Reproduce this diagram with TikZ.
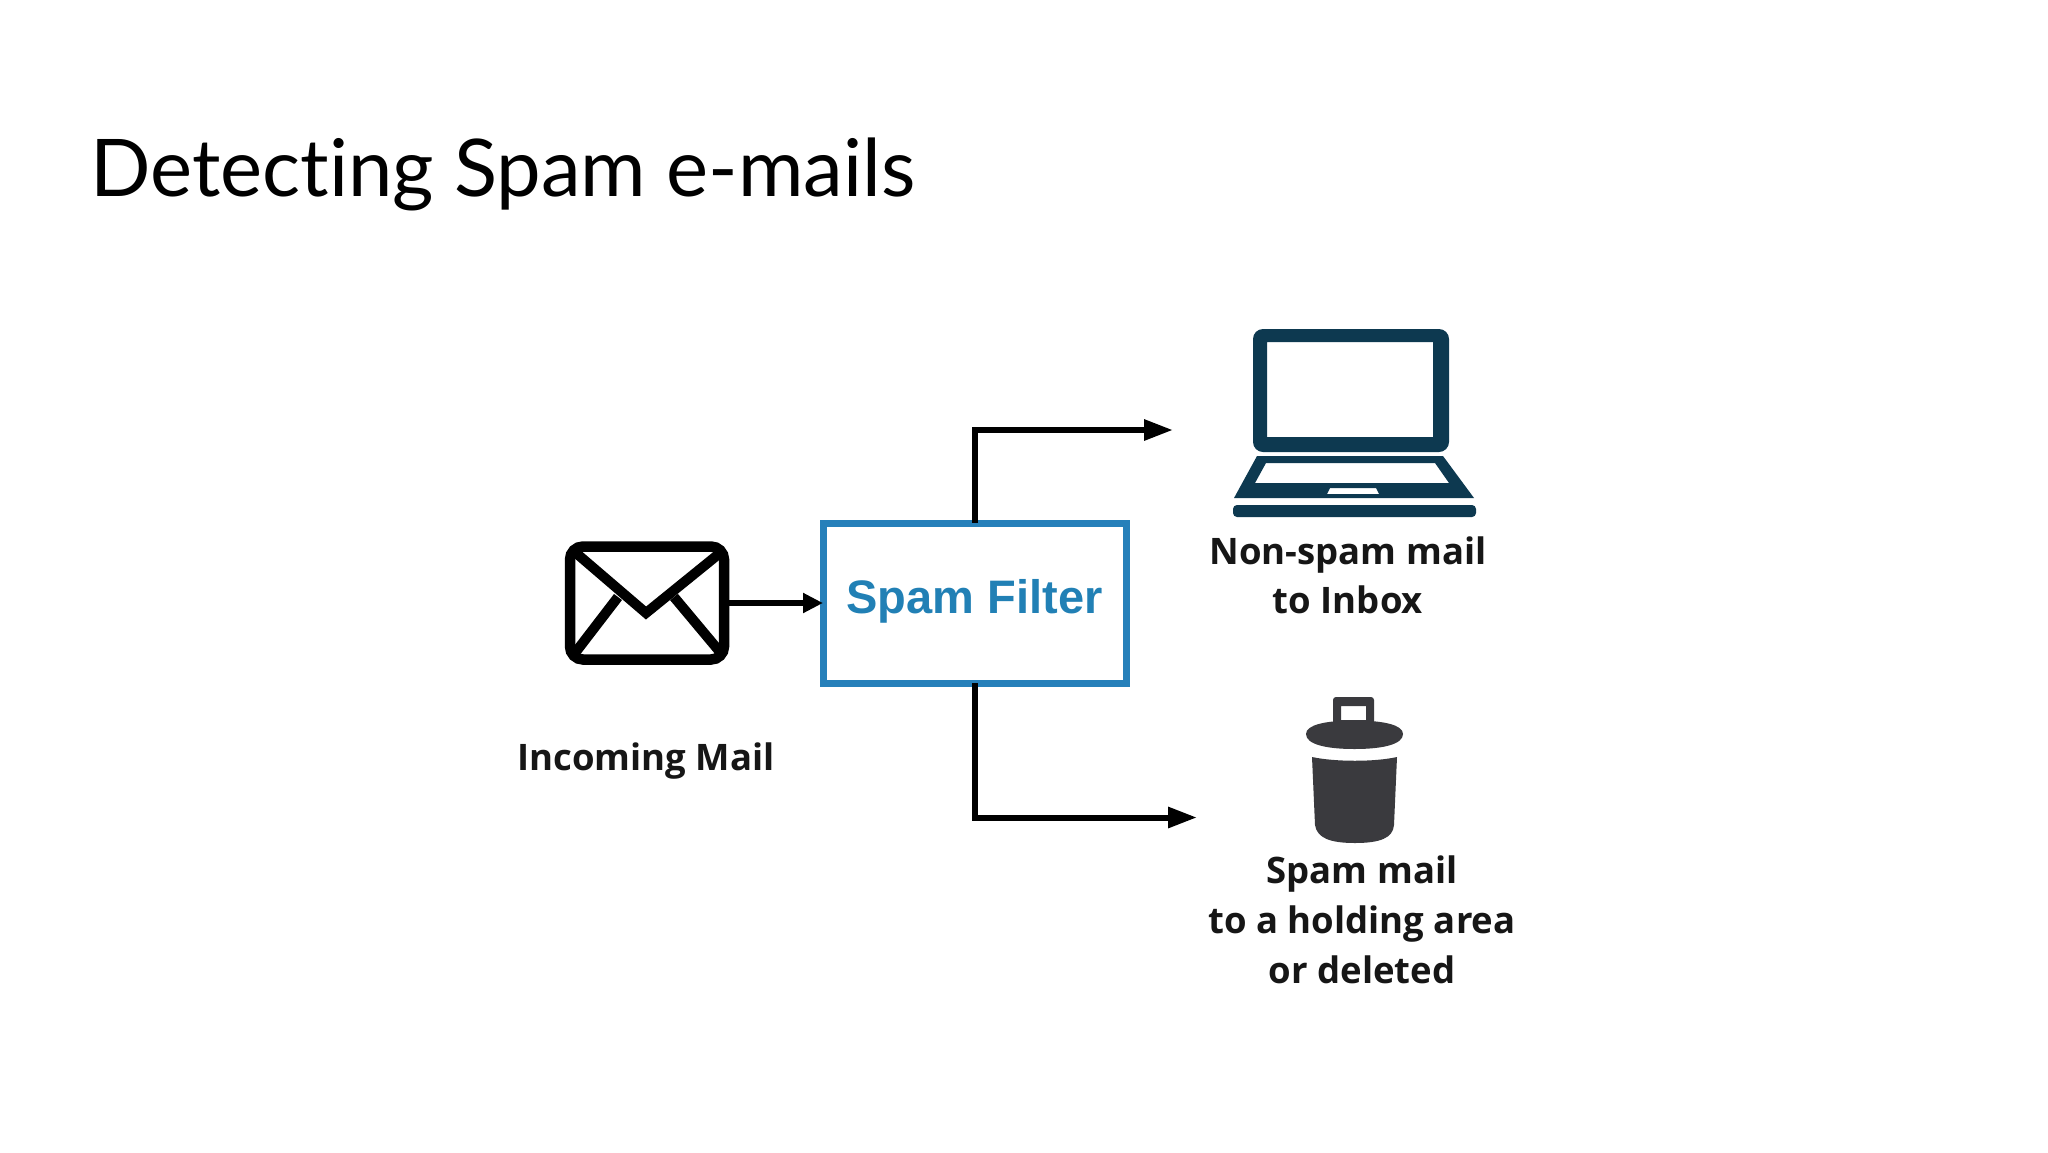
\documentclass[tikz,border=0pt]{standalone}
\usepackage{fontspec}
\setmainfont{Open Sans}
\newfontfamily\titlefont[Ligatures=NoCommon]{Lato}
\newfontfamily\boxfont{Liberation Sans}
\usetikzlibrary{arrows.meta}
\definecolor{boxblue}{HTML}{2680BA}
\definecolor{boxtext}{HTML}{2180B5}
\definecolor{lapcol}{HTML}{0D3950}
\definecolor{bincol}{HTML}{3A3A3E}
\definecolor{labelcol}{HTML}{161616}
\tikzset{
  x=1pt,y=-1pt,
  flow/.style={line width=6pt,black,-{Triangle[length=29pt,width=20pt]}},
  flowsmall/.style={line width=5.5pt,black,-{Triangle[length=20pt,width=19pt]}},
  lab/.style={font=\fontsize{36.5}{46}\selectfont\bfseries,text=labelcol,inner sep=0pt,align=center,anchor=base},
}
\begin{document}
\begin{tikzpicture}
\useasboundingbox[fill=white] (0,0) rectangle (2048,1152);
\node[font=\titlefont\fontsize{79.6}{90}\selectfont,anchor=base west,inner sep=0pt] (title) at (90,196) {Detecting Spam e-mails};

% envelope
\node[draw=black,line width=10.5pt,rounded corners=13pt,minimum width=154pt,minimum height=113pt,inner sep=0pt,outer sep=0pt] (mail) at (647,603) {};
\draw[line width=10pt,black,line join=miter] (576,553) -- (646,613) -- (720,553);
\draw[line width=10pt,black] (618,597) -- (575,653);
\draw[line width=10pt,black] (674,597) -- (720,652);

% filter
\node[draw=boxblue,line width=7pt,minimum width=303pt,minimum height=160pt,inner sep=0pt,outer sep=0pt] (filter) at (974.5,603) {};
\node[font=\boxfont\bfseries\fontsize{47}{50}\selectfont,text=boxtext,anchor=base,inner sep=0pt] (filterlabel) at (974.5,613) {Spam Filter};

% connector ends
\coordinate (inbox) at (1173,430);
\coordinate (spam) at (1197,817.5);
\draw[flowsmall] (mail.east) -- (filter.west);
\draw[flow] (filter.north) |- (inbox);
\draw[flow] (filter.south) |- (spam);

% laptop
\fill[lapcol,even odd rule]
  [rounded corners=10pt] (1253,329) rectangle (1449,452)
  [sharp corners] (1267,342) rectangle (1433,437);
\fill[lapcol,even odd rule]
  (1257,456) -- (1443,456) -- (1474,498) -- (1234,498) -- cycle
  (1266,463) -- (1435,463) -- (1449,483) -- (1255,483) -- cycle
  (1330,488) -- (1376,488) -- (1379,494) -- (1327,494) -- cycle;
\fill[lapcol,rounded corners=4pt] (1233,505) rectangle (1476,517);

% bin
\fill[bincol,even odd rule]
  [rounded corners=3pt] (1333,697) rectangle (1374,725)
  [sharp corners] (1341,706) rectangle (1366,720);
\fill[bincol] (1306,734) .. controls (1306,725) and (1325,720.5) .. (1354.5,720.5)
  .. controls (1384,720.5) and (1403,725) .. (1403,734)
  .. controls (1403,744) and (1384,749) .. (1354.5,749)
  .. controls (1325,749) and (1306,744) .. (1306,734) -- cycle;
\fill[bincol] (1312,757) .. controls (1335,762) and (1375,762) .. (1397,757)
  -- (1394,825) .. controls (1393,838) and (1380,843) .. (1355,843)
  .. controls (1330,843) and (1317,838) .. (1315,825) -- cycle;

% labels
\node[lab] (incoming) at (646,770) {Incoming Mail};
\node[lab] (nonspam1) at (1348,564) {Non-spam mail};
\node[lab] (nonspam2) at (1348,613) {to Inbox};
\node[lab] (spam1) at (1362,883) {Spam mail};
\node[lab] (spam2) at (1362,933) {to a holding area};
\node[lab] (spam3) at (1362,983) {or deleted};
\end{tikzpicture}
\end{document}
